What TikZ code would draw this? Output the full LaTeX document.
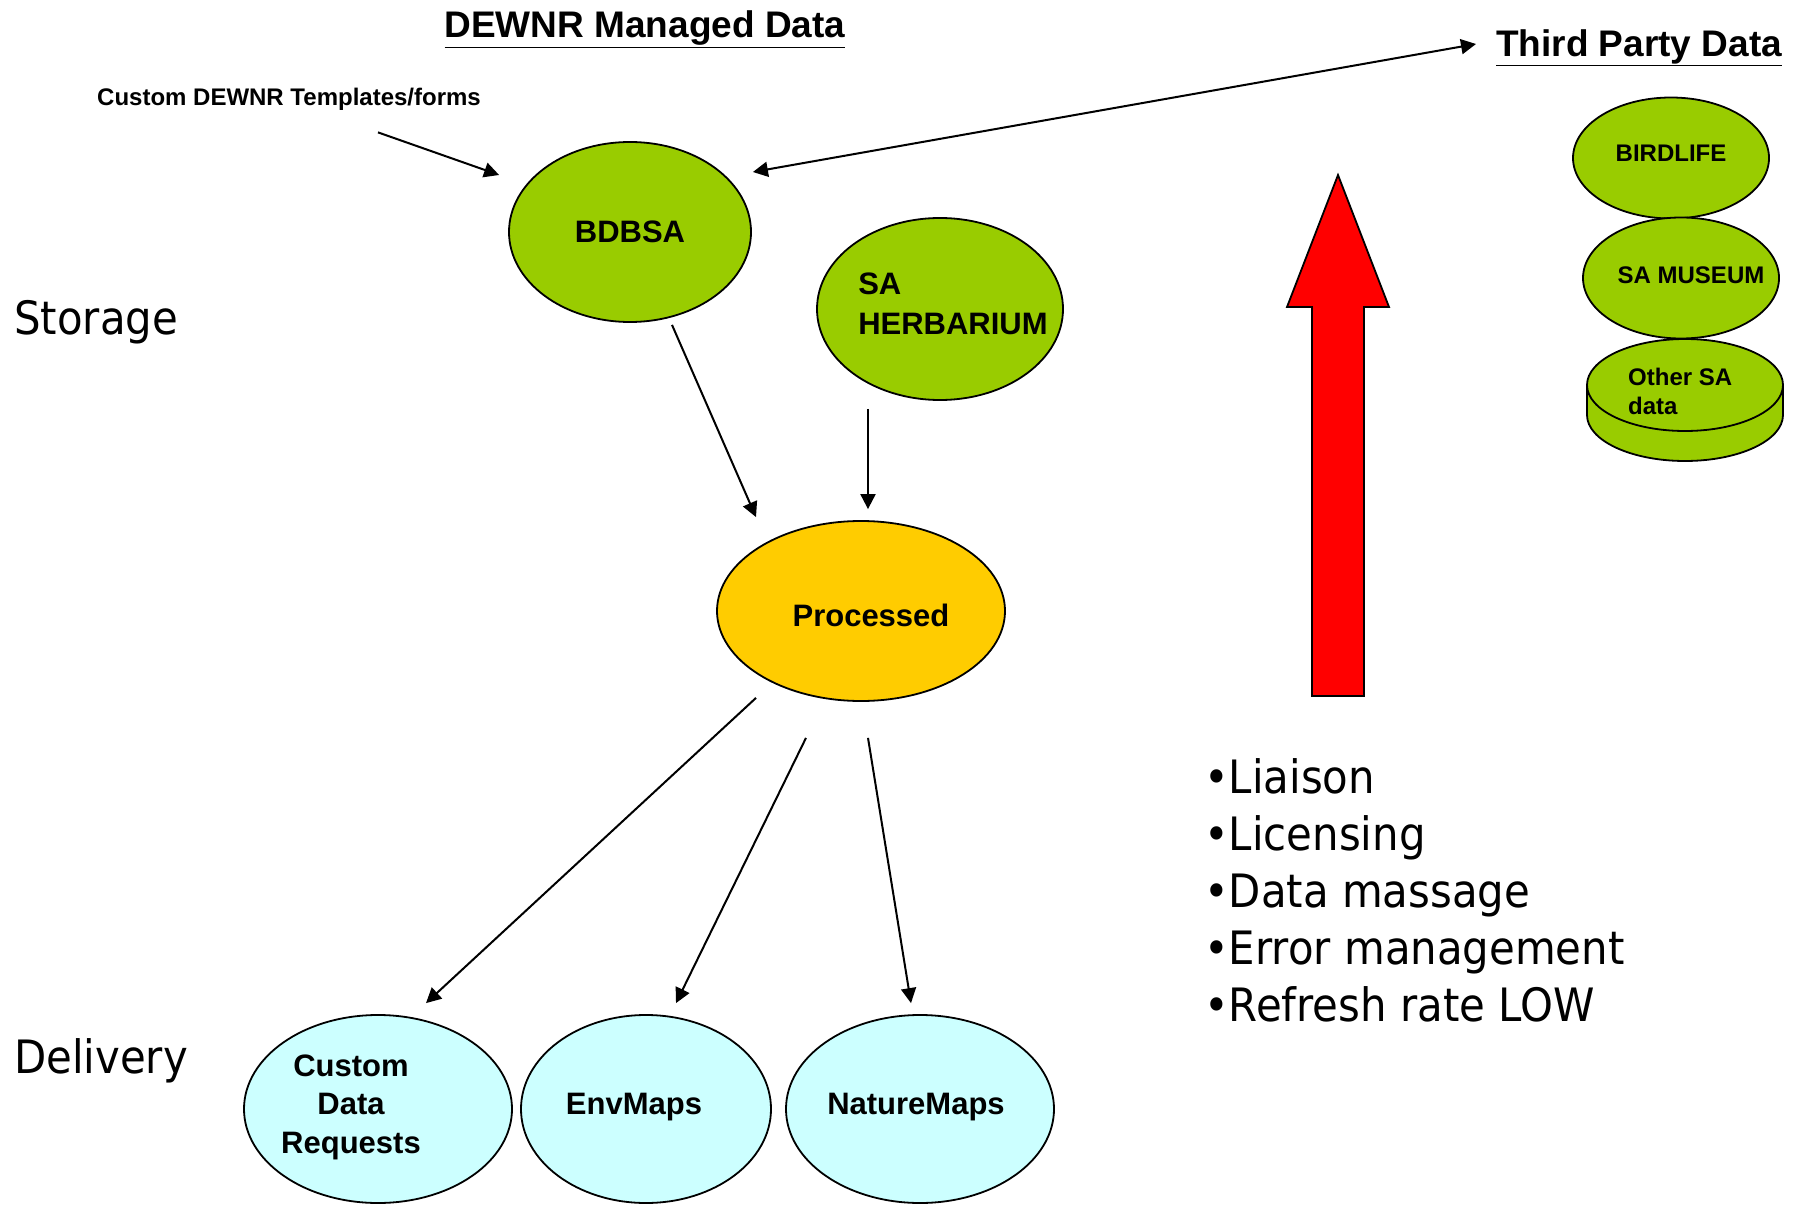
\documentclass[tikz,border=0pt]{standalone}
\usepackage{fontspec}
\setmainfont{Liberation Sans}
\newfontfamily\slidefont[FakeStretch=0.91]{DejaVu Sans}
\usetikzlibrary{shapes.geometric,arrows.meta,positioning}
\definecolor{leaf}{HTML}{99CC00}
\definecolor{sky}{HTML}{CCFFFF}
\definecolor{amber}{HTML}{FFCC00}
\tikzset{
  >={Triangle[length=15pt,width=15pt]},
  blob/.style={ellipse, draw=black, line width=1.8pt, inner sep=0pt,
               font=\bfseries\fontsize{31}{39}\selectfont, align=center},
  store/.style={blob, fill=leaf},
  deliver/.style={blob, fill=sky, minimum width=268pt, minimum height=188pt},
  thirdblob/.style={blob, fill=leaf, minimum width=196pt, minimum height=121pt,
                    font=\bfseries\fontsize{24}{29}\selectfont},
  line/.style={draw, line width=2pt, ->},
  slide/.style={font=\slidefont\fontsize{46}{57}\selectfont, inner sep=0pt, anchor=west},
  head/.style={font=\bfseries\fontsize{37}{44}\selectfont, inner sep=0pt}
}
\begin{document}
\begin{tikzpicture}[x=1pt,y=-1pt]
\useasboundingbox (0,0) rectangle (1797,1206);
% titles
\node[head] (dewnr) at (645,29) {\underline{DEWNR Managed Data}};
\node[head,anchor=west] (third) at (1496,48) {\underline{Third Party Data}};
\node[inner sep=0pt, font=\bfseries\fontsize{24}{29}\selectfont] (tmpl) at (289,99) {Custom DEWNR Templates/forms};
% row labels
\node[slide] (storage) at (14,322) {Storage};
\node[slide] (delivery) at (14,1061) {Delivery};
% storage
\node[store, minimum width=242pt, minimum height=180pt] (bdbsa) at (630,232) {BDBSA};
\node[store, minimum width=246pt, minimum height=182pt,
      label={[align=left, font=\bfseries\fontsize{31}{40}\selectfont, xshift=13pt, yshift=5pt]center:SA\\HERBARIUM}] (herb) at (940,309) {};
\node[blob, fill=amber, minimum width=288pt, minimum height=180pt,
      label={[font=\bfseries\fontsize{31}{39}\selectfont, xshift=10pt, yshift=-4pt]center:Processed}] (proc) at (861,611) {};
% delivery
\node[deliver, label={[align=center, font=\bfseries\fontsize{31}{38.5}\selectfont, xshift=-27pt, yshift=2pt]center:Custom\\Data\\Requests}] (cdr) at (378,1109) {};
\node[deliver, minimum width=250pt, label={[font=\bfseries\fontsize{31}{39}\selectfont, xshift=-12pt, yshift=2pt]center:EnvMaps}] (env) at (646,1109) {};
\node[deliver, label={[font=\bfseries\fontsize{31}{39}\selectfont, xshift=-4pt, yshift=2pt]center:NatureMaps}] (nat) at (920,1109) {};
% third party
\node[thirdblob, label={[font=\bfseries\fontsize{24}{29}\selectfont, yshift=5pt]center:BIRDLIFE}] (bird) at (1671,158) {};
\node[thirdblob, label={[font=\bfseries\fontsize{24}{29}\selectfont, xshift=10pt, yshift=3pt]center:SA MUSEUM}] (museum) at (1681,278) {};
\draw[fill=leaf, line width=1.8pt] (1587,385) -- (1587,415) arc[start angle=180, end angle=360, x radius=98pt, y radius=46pt] -- (1783,385);
\draw[fill=leaf, line width=1.8pt] (1685,385) ellipse [x radius=98pt, y radius=46pt];
\node[font=\bfseries\fontsize{24}{29}\selectfont, align=left, anchor=west, inner sep=0pt] (other) at (1628,391) {Other SA\\data};
% red arrow
\draw[line width=1.8pt, fill=red] (1312,696) -- (1312,307) -- (1287,307) -- (1338,175) -- (1389,307) -- (1364,307) -- (1364,696) -- cycle;
\node[slide, anchor=north west, align=left] (issues) at (1204,758)
  {•Liaison\\•Licensing\\•Data massage\\•Error management\\•Refresh rate LOW};
% connectors
\draw[line] ([xshift=89pt,yshift=-22pt]tmpl.south) -- ([xshift=-9pt,yshift=57pt]bdbsa.west);
\draw[line,<->] ([xshift=1pt,yshift=60pt]bdbsa.east) -- ([xshift=-20pt,yshift=4pt]third.west);
\draw[line] ([xshift=42pt,yshift=-2pt]bdbsa.south) -- ([xshift=-105pt,yshift=3pt]proc.north);
\draw[line] ([xshift=-72pt,yshift=-8pt]herb.south) -- ([xshift=7pt,yshift=11pt]proc.north);
\draw[line] ([xshift=-105pt,yshift=4pt]proc.south) -- ([xshift=48pt,yshift=11pt]cdr.north);
\draw[line] ([xshift=-55pt,yshift=-36pt]proc.south) -- ([xshift=30pt,yshift=11pt]env.north);
\draw[line] ([xshift=7pt,yshift=-36pt]proc.south) -- ([xshift=-9pt,yshift=11pt]nat.north);
\end{tikzpicture}
\end{document}
